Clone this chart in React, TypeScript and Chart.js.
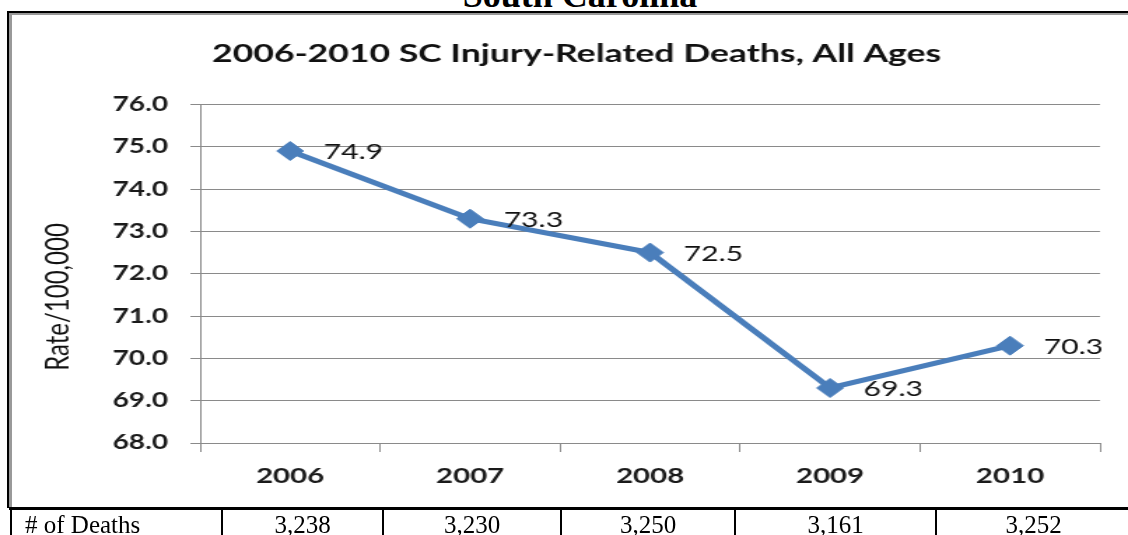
import React, { useEffect, useRef } from 'react';
import { Chart, registerables } from 'chart.js';

Chart.register(...registerables);

// ---- data ----
const years: string[] = ['2006', '2007', '2008', '2009', '2010'];
const rates: number[] = [74.9, 73.3, 72.5, 69.3, 70.3];
const deathCounts: string[] = ['3,238', '3,230', '3,250', '3,161', '3,252'];
const yMin = 68;
const yMax = 76;
const yStep = 1;
const pageTitle = 'South Carolina';
const chartTitle = '2006-2010 SC Injury-Related Deaths, All Ages';
const yAxisTitle = 'Rate/100,000';
const rowLabel = '# of Deaths';

// ---- layout ----
const CANVAS_W = 806;
const CANVAS_H = 491;
const STRETCH = 1128 / CANVAS_W;
const GRID = '#8a8a8a';
const BLUE = '#4a7ebb';

const pointLabelPlugin = {
  id: 'pointValueLabels',
  afterDatasetsDraw(chart: any) {
    const ctx = chart.ctx;
    const meta = chart.getDatasetMeta(0);
    ctx.save();
    ctx.font = 'normal 21.5px Lato';
    ctx.fillStyle = '#111';
    ctx.textAlign = 'left';
    ctx.textBaseline = 'middle';
    meta.data.forEach((pt: any, i: number) => {
      ctx.fillText(rates[i].toFixed(1), pt.x + 24, pt.y + 1);
    });
    ctx.restore();
  },
};

const yTitlePlugin = {
  id: 'yTitleCustom',
  afterDraw(chart: any) {
    const ctx = chart.ctx;
    ctx.save();
    ctx.translate(41, 282);
    ctx.rotate(-Math.PI / 2);
    ctx.font = 'normal 24px Lato';
    ctx.fillStyle = '#111';
    ctx.textAlign = 'center';
    ctx.textBaseline = 'middle';
    ctx.fillText(yAxisTitle, 0, 0);
    ctx.restore();
  },
};

function LineChart() {
  const ref = useRef<HTMLCanvasElement | null>(null);
  useEffect(() => {
    if (!ref.current) return;
    const chart = new Chart(ref.current, {
      type: 'line',
      data: {
        labels: years,
        datasets: [
          {
            data: rates,
            borderColor: BLUE,
            backgroundColor: BLUE,
            borderWidth: 5,
            pointStyle: 'rectRot',
            pointRadius: 9.5,
            pointBackgroundColor: BLUE,
            pointBorderColor: BLUE,
            pointBorderWidth: 1,
            tension: 0,
            clip: false,
          } as any,
        ],
      },
      options: {
        responsive: false,
        maintainAspectRatio: false,
        animation: false,
        devicePixelRatio: 1,
        layout: { padding: { left: 38, right: 20, top: 16, bottom: 0 } },
        plugins: {
          legend: { display: false },
          tooltip: { enabled: false },
          title: {
            display: true,
            text: chartTitle,
            color: '#111',
            font: { family: 'Lato', size: 25.4, weight: 'bold' },
            padding: { top: 8, bottom: 35 },
          },
        },
        scales: {
          x: {
            type: 'category',
            offset: true,
            grid: {
              display: true,
              offset: true,
              drawOnChartArea: false,
              drawTicks: true,
              tickLength: 9,
              color: GRID,
              lineWidth: 1,
            },
            border: { display: true, color: GRID, width: 1 },
            ticks: {
              font: { family: 'Lato', size: 21, weight: 'bold' },
              color: '#1a1a1a',
              padding: 12,
              maxRotation: 0,
              autoSkip: false,
            },
            afterFit: (scale: any) => {
              scale.height = 63;
            },
          },
          y: {
            min: yMin,
            max: yMax,
            ticks: {
              stepSize: yStep,
              callback: (v: any) => Number(v).toFixed(1),
              font: { family: 'Lato', size: 20, weight: 'bold' },
              color: '#1a1a1a',
              padding: 16,
            },
            grid: { color: GRID, lineWidth: 1, tickLength: 7, drawTicks: true },
            border: { display: true, color: GRID, width: 1 },
            afterFit: (scale: any) => {
              scale.width = 105;
            },
          },
        },
      },
      plugins: [pointLabelPlugin, yTitlePlugin],
    });
    return () => chart.destroy();
  }, []);
  return (
    <canvas
      ref={ref}
      width={CANVAS_W}
      height={CANVAS_H}
      style={{
        position: 'absolute',
        left: 0,
        top: 15,
        width: CANVAS_W + 'px',
        height: CANVAS_H + 'px',
        transform: `scaleX(${STRETCH})`,
        transformOrigin: '0 0',
      }}
    />
  );
}

const cellLines = [221, 382, 560, 734, 935];
const tableRight = 1130;

export default function App() {
  const cellEdges = [12, ...cellLines, tableRight];
  return (
    <div
      style={{
        position: 'absolute',
        left: 0,
        top: 0,
        width: 1128,
        height: 535,
        overflow: 'hidden',
        background: '#fff',
      }}
    >
      <div
        style={{
          position: 'absolute',
          left: 330,
          width: 500,
          top: -23,
          textAlign: 'center',
          fontFamily: '"Liberation Serif", serif',
          fontWeight: 'bold',
          fontSize: 36,
          lineHeight: '36px',
          color: '#000',
        }}
      >
        {pageTitle}
      </div>
      <LineChart />
      {/* chart box borders */}
      <div style={{ position: 'absolute', left: 7, top: 11, width: 1200, height: 2, background: '#000' }} />
      <div style={{ position: 'absolute', left: 7, top: 11, width: 2, height: 497, background: '#000' }} />
      <div style={{ position: 'absolute', left: 9, top: 13, width: 1200, height: 2, background: '#999' }} />
      <div style={{ position: 'absolute', left: 9, top: 13, width: 3, height: 494, background: '#999' }} />
      {/* table */}
      <div style={{ position: 'absolute', left: 9, top: 507, width: 1200, height: 3, background: '#000' }} />
      <div style={{ position: 'absolute', left: 10, top: 507, width: 2, height: 40, background: '#000' }} />
      {cellLines.map((x) => (
        <div key={x} style={{ position: 'absolute', left: x, top: 507, width: 2, height: 40, background: '#000' }} />
      ))}
      <div
        style={{
          position: 'absolute',
          left: 25,
          top: 512,
          fontFamily: '"Liberation Serif", serif',
          fontSize: 25,
          lineHeight: '25px',
          color: '#000',
          whiteSpace: 'nowrap',
        }}
      >
        {rowLabel}
      </div>
      {deathCounts.map((d, i) => (
        <div
          key={d}
          style={{
            position: 'absolute',
            left: cellEdges[i + 1] + 2,
            width: cellEdges[i + 2] - cellEdges[i + 1] - 2,
            top: 512,
            textAlign: 'center',
            fontFamily: '"Liberation Serif", serif',
            fontSize: 25,
            lineHeight: '25px',
            color: '#000',
            whiteSpace: 'nowrap',
          }}
        >
          {d}
        </div>
      ))}
    </div>
  );
}
